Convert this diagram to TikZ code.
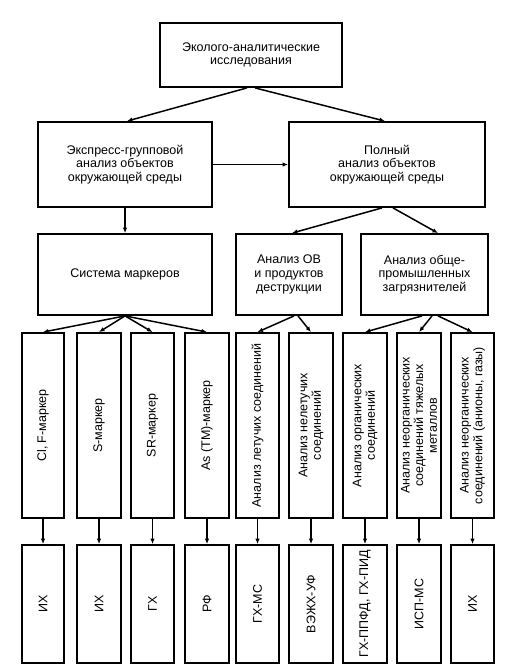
\documentclass[tikz,border=0pt]{standalone}
\usepackage{fontspec}
\setmainfont{Liberation Sans}
\usetikzlibrary{arrows.meta}
\begin{document}
\begin{tikzpicture}[x=1pt,y=-1pt,
  box/.style={draw,line width=1.8pt,align=center,inner sep=2pt,
    font=\fontsize{12.5}{13.6}\selectfont},
  vbox/.style={box,rotate=90},
  arr/.style={line width=1.5pt,-{Latex[length=5.5pt,width=4.5pt]}}]
\useasboundingbox (0,0) rectangle (515,669);
\node[box,minimum width=182,minimum height=64] (top) at (251,55) {Эколого-аналитические\\исследования};
\node[box,minimum width=174,minimum height=85] (expr) at (125,164.5) {Экспресс-групповой\\анализ объектов\\окружающей среды};
\node[box,minimum width=196,minimum height=85] (full) at (387,164.5) {Полный\\анализ объектов\\окружающей среды};
\node[box,minimum width=174,minimum height=81] (sys) at (125,274.5) {Система маркеров};
\node[box,minimum width=106,minimum height=81] (ov) at (289,274.5) {Анализ ОВ\\и продуктов\\деструкции};
\node[box,minimum width=127,minimum height=81] (ob) at (424.5,274.5) {Анализ обще-\\промышленных\\загрязнителей};
% vertical boxes
\foreach \n/\cx/\w/\t in {
  c1/43/42/{Cl, F-маркер},
  c2/99/44/{S-маркер},
  c3/152.5/43/{SR-маркер},
  c4/207/44/{As (ТМ)-маркер},
  c5/257.5/43/{Анализ летучих соединений},
  c6/311/44/{Анализ нелетучих\\соединений},
  c7/365/44/{Анализ органических\\соединений},
  c8/419/44/{Анализ неорганических\\соединений тяжелых\\металлов},
  c9/472.5/43/{Анализ неорганических\\соединений (анионы, газы)}}
  {\node[vbox,minimum width=185,minimum height=\w] (\n) at (\cx,425.5) {\t};}
\foreach \n/\cx/\w/\t in {
  b1/43/42/{ИХ},
  b2/99/44/{ИХ},
  b3/152.5/43/{ГХ},
  b4/207/44/{РФ},
  b5/257.5/43/{ГХ-МС},
  b6/311/44/{ВЭЖХ-УФ},
  b7/365/44/{ГХ-ППФД, ГХ-ПИД},
  b8/419/44/{ИСП-МС},
  b9/472.5/43/{ИХ}}
  {\node[vbox,minimum width=118,minimum height=\w] (\n) at (\cx,604) {\t};}
% connectors
\draw[arr] ([xshift=-4pt]top.south) -- ([xshift=2pt]expr.north);
\draw[arr] ([xshift=4pt]top.south) -- ([xshift=-2pt]full.north);
\draw[arr] (expr.east) -- (full.west);
\draw[arr] (expr.south) -- (sys.north);
\draw[arr] ([xshift=-5pt]full.south) -- ([xshift=3pt]ov.north);
\draw[arr] ([xshift=6pt]full.south) -- ([xshift=13.5pt]ob.north);
\foreach \c in {c1,c2,c3,c4} \draw[arr] (sys.south) -- (\c.east);
\draw[arr] ([xshift=5pt]ov.south) -- (c5.east);
\draw[arr] ([xshift=9pt]ov.south) -- (c6.east);
\draw[arr] ([xshift=-2.5pt]ob.south) -- (c7.east);
\draw[arr] ([xshift=7.5pt]ob.south) -- (c8.east);
\draw[arr] ([xshift=13.5pt]ob.south) -- (c9.east);
\foreach \i in {1,...,9} \draw[arr] (c\i.west) -- (b\i.east);
\end{tikzpicture}
\end{document}
